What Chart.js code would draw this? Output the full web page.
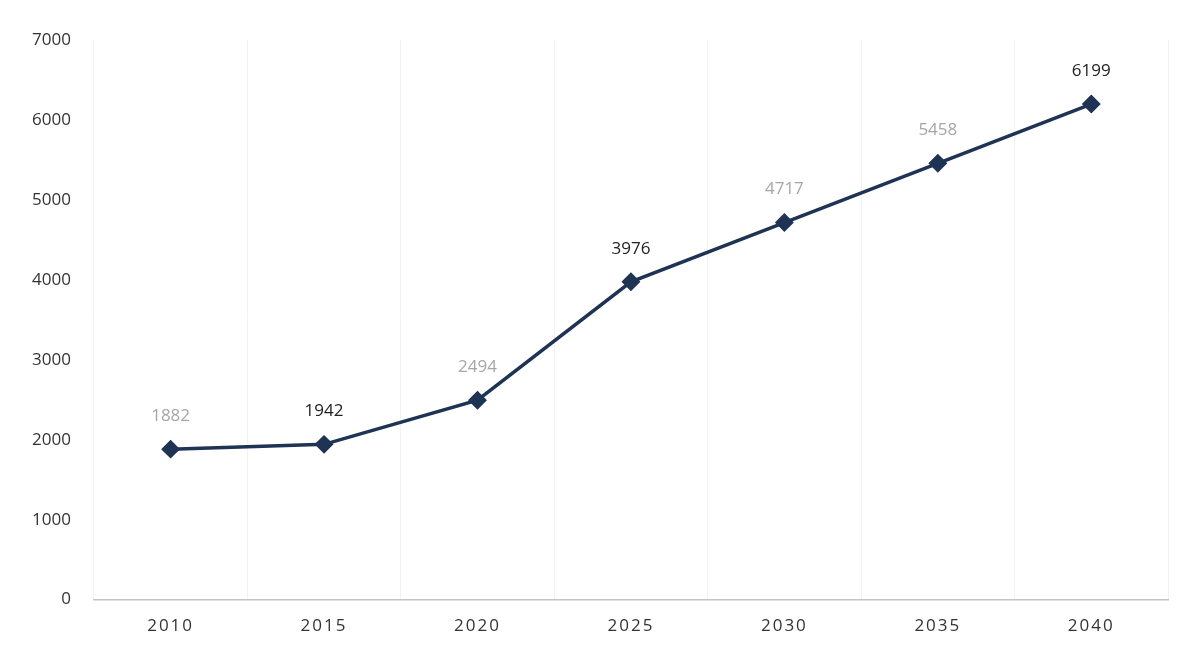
<!DOCTYPE html>
<html>
<head>
<meta charset="utf-8">
<script src="https://cdn.jsdelivr.net/npm/chart.js@4"></script>
<style>
  html, body { margin: 0; padding: 0; background: #fff; }
  #wrap { width: 1191px; height: 645px; }
</style>
</head>
<body>
<div id="wrap"><canvas id="chart" width="1191" height="645"></canvas></div>
<script>
// Data
const years = ['2010', '2015', '2020', '2025', '2030', '2035', '2040'];
const values = [1882, 1942, 2494, 3976, 4717, 5458, 6199];
// scan makes some value labels lighter than others
const labelColors = ['#a6a6a6', '#222222', '#a6a6a6', '#222222', '#a6a6a6', '#a6a6a6', '#222222'];

const lineColor = '#1f3354';

// value labels above each point
const valueLabels = {
    id: 'valueLabels',
    afterDatasetsDraw(chart) {
        const ctx = chart.ctx;
        const meta = chart.getDatasetMeta(0);
        ctx.save();
        ctx.letterSpacing = '0px';
        ctx.font = '17px "Open Sans", sans-serif';
        ctx.textAlign = 'center';
        ctx.textBaseline = 'middle';
        meta.data.forEach((pt, i) => {
            ctx.fillStyle = labelColors[i];
            ctx.fillText(String(values[i]), pt.x, pt.y - 33);
        });
        ctx.restore();
    }
};

// spaced-out x tick labels: x axis draws with spacing, y tick labels (z=1) without
const spacing = {
    id: 'spacing',
    beforeDraw(chart) { chart.ctx.letterSpacing = '2px'; },
    beforeDatasetsDraw(chart) { chart.ctx.letterSpacing = '0px'; }
};

new Chart(document.getElementById('chart'), {
    type: 'line',
    data: {
        labels: years,
        datasets: [{
            data: values,
            borderColor: lineColor,
            backgroundColor: lineColor,
            borderWidth: 3.5,
            pointStyle: 'rectRot',
            pointRadius: 7,
            pointHoverRadius: 7,
            tension: 0
        }]
    },
    options: {
        responsive: false,
        animation: false,
        layout: { padding: { top: 40, right: 23, left: 17, bottom: -7 } },
        plugins: {
            legend: { display: false },
            tooltip: { enabled: false }
        },
        scales: {
            x: {
                offset: true,
                grid: { offset: true, color: '#f2f2f2', lineWidth: 1, drawTicks: false },
                border: { color: '#c4c4c4', width: 1.5 },
                ticks: {
                    color: '#333',
                    font: { size: 17, family: '"Open Sans", sans-serif' },
                    padding: 16
                }
            },
            y: {
                min: 0,
                max: 7000,
                grid: { display: false },
                border: { display: false },
                ticks: {
                    z: 1,
                    stepSize: 1000,
                    color: '#333',
                    font: { size: 17, family: '"Open Sans", sans-serif' },
                    padding: 15,
                    callback: v => String(v)
                }
            }
        }
    },
    plugins: [spacing, valueLabels]
});
</script>
</body>
</html>
